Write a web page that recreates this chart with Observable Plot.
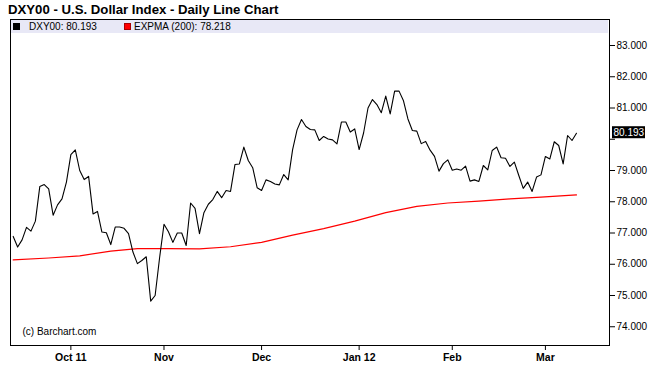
<!DOCTYPE html>
<html>
<head>
<meta charset="utf-8">
<script src="https://cdn.jsdelivr.net/npm/d3@7"></script>
<script src="https://cdn.jsdelivr.net/npm/@observablehq/plot@0.6"></script>
<style>
  body { margin: 0; background: #fff; font-family: "Liberation Sans", Arial, sans-serif; }
  #wrap { position: relative; width: 650px; height: 386px; }
  #title { position: absolute; left: 8px; top: 2px; font-size: 13.2px; font-weight: bold; color: #000; white-space: nowrap; }
  #chart { position: absolute; left: 0; top: 18px; }
  #legend { position: absolute; left: 11px; top: 20px; width: 597px; height: 13px; background: #e8e8f6;
            font-size: 10px; line-height: 13px; color: #000; white-space: nowrap; }
  #legend span.sw { display: inline-block; width: 7px; height: 7px; }
  #legend span.item { position: absolute; top: 0; }
</style>
</head>
<body>
<div id="wrap">
  <div id="title">DXY00 - U.S. Dollar Index - Daily Line Chart</div>
  <div id="chart"></div>
  <div id="legend"></div>
</div>
<script>
// Daily closes of DXY00, one per trading day (index 0 = mid Sep 2011, last = mid Mar 2012)
const closes = [
  76.89, 76.55, 76.78, 77.18, 77.06, 77.38, 78.49, 78.55, 78.41, 77.57, 77.90, 78.09, 78.63,
  79.51, 79.66, 79.00, 78.71, 78.81, 77.61, 77.69, 77.03, 77.01, 76.63, 77.19, 77.19, 77.15,
  76.98, 76.39, 76.02, 76.12, 76.24, 74.82, 75.00, 76.20,
  77.28, 77.04, 76.70, 77.00, 77.00, 76.60, 77.96, 77.79, 76.98, 77.65, 77.92, 78.07,
  78.33, 78.13, 78.36, 78.33, 79.19, 79.21, 79.75,
  79.32, 79.09, 78.45, 78.36, 78.70, 78.65, 78.57, 78.54, 78.87, 78.70, 79.67, 80.30, 80.63,
  80.41, 80.31, 80.30, 79.96, 80.09, 80.01, 79.98, 79.85, 80.55, 80.55, 80.23, 80.33,
  79.67, 80.20, 81.00, 81.27, 81.11, 80.85, 81.38, 80.81, 81.54, 81.54, 81.23, 80.65,
  80.28, 80.26, 79.86, 79.93, 79.65, 79.45, 78.98, 79.22, 79.34, 79.01, 79.05, 79.01, 79.14, 78.66, 78.70,
  78.65, 79.16, 79.02, 79.64, 79.75, 79.41, 79.39, 79.13, 79.27, 78.84, 78.43, 78.63, 78.33, 78.79,
  78.86, 79.45, 79.37, 79.92, 79.80, 79.21, 80.12, 79.96, 80.193
];

// EXPMA(200) read at sampled trading-day indexes
const emaIndex = [0, 8, 15, 22, 28, 35, 42, 49, 56, 63, 70, 77, 84, 91, 98, 105, 112, 119, 127];
const emaValues = [76.14, 76.20, 76.27, 76.42, 76.50, 76.50, 76.49, 76.56, 76.70, 76.93, 77.14, 77.38,
                   77.65, 77.85, 77.96, 78.02, 78.09, 78.15, 78.218];

// x-axis month labels at trading-day indexes
const monthIndex = [13, 34, 56, 78, 99, 120];
const monthLabels = ["Oct 11", "Nov", "Dec", "Jan 12", "Feb", "Mar"];

// y-axis ticks
const yTicks = [74, 75, 76, 77, 78, 79, 80, 81, 82, 83];

const seriesName = "DXY00";
const emaName = "EXPMA (200)";
const lastClose = closes[closes.length - 1];
const lastEma = emaValues[emaValues.length - 1];

const priceData = closes.map((v, i) => ({i, v}));
const emaData = emaIndex.map((i, k) => ({i, v: emaValues[k]}));

const fmt = d3.format(".3f");

const chart = Plot.plot({
  width: 650,
  height: 368,
  marginTop: 1,
  marginBottom: 41,
  marginLeft: 10,
  marginRight: 41,
  style: {fontFamily: "'Liberation Sans', Arial, sans-serif", fontSize: "10px", color: "#000", background: "#fff"},
  x: {domain: [-0.61, 134.45], axis: null},
  y: {domain: [73.4, 83.832], axis: null},
  marks: [
    Plot.line(emaData, {x: "i", y: "v", stroke: "#ff0000", strokeWidth: 1.2}),
    Plot.line(priceData, {x: "i", y: "v", stroke: "#000", strokeWidth: 1.1}),
    Plot.frame({stroke: "#000", strokeWidth: 1}),
    Plot.axisY(yTicks, {anchor: "right", label: null, tickSize: 5, tickPadding: 2, fontSize: 10,
                        tickFormat: d => d === 80 ? "" : fmt(d)}),
    Plot.axisX(monthIndex, {anchor: "bottom", label: null, tickSize: 5, tickPadding: 3, fontSize: 10.5, fontWeight: "bold",
                            tickFormat: d => monthLabels[monthIndex.indexOf(d)]}),
    Plot.text(["(c) Barchart.com"], {frameAnchor: "bottom-left", dx: 12, dy: -11, text: d => d,
                                     fontSize: 10, textAnchor: "start", fill: "#000"}),
    Plot.text([lastClose], {y: d => d, frameAnchor: "right", dx: 4, text: d => fmt(d),
                            textAnchor: "start", fill: "#fff", fontSize: 10})
  ]
});
document.getElementById("chart").appendChild(chart);

// black box behind the last-value label, placed with the chart's own y scale
{
  const yPix = chart.scale("y").apply(lastClose);
  const xPix = 650 - 41 + 3;
  const r = document.createElementNS("http://www.w3.org/2000/svg", "rect");
  r.setAttribute("x", xPix);
  r.setAttribute("y", yPix - 6.5);
  r.setAttribute("width", 33);
  r.setAttribute("height", 12);
  r.setAttribute("fill", "#000");
  const texts = [...chart.querySelectorAll("text")].filter(t => t.textContent === fmt(lastClose));
  const g = texts.length ? texts[texts.length - 1].closest("g") : null;
  if (g && g.parentNode) g.parentNode.insertBefore(r, g); else chart.appendChild(r);
  if (g) g.setAttribute("fill", "#fff");
}

// legend band
const legend = document.getElementById("legend");
legend.innerHTML =
  `<span class="item" style="left:2px"><span class="sw" style="background:#000;margin-right:9px"></span>${seriesName}: ${fmt(lastClose)}</span>` +
  `<span class="item" style="left:113px"><span class="sw" style="background:#ff0000;margin-right:3px;box-shadow:inset 0 0 0 1px #a00"></span>${emaName}: ${fmt(lastEma)}</span>`;
</script>
</body>
</html>
